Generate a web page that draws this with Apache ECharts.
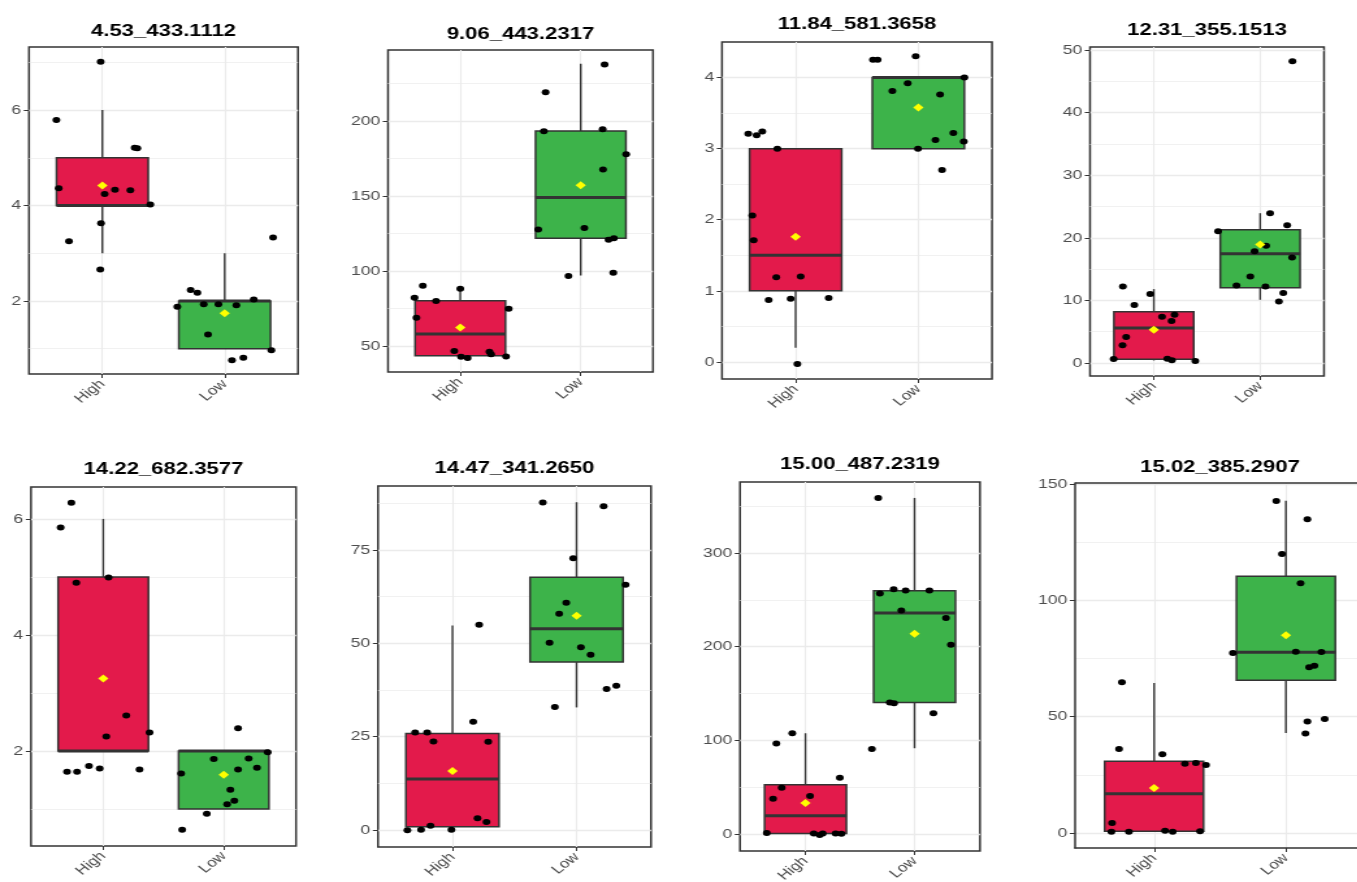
<!DOCTYPE html>
<html>
<head>
<meta charset="utf-8">
<script src="https://cdn.jsdelivr.net/npm/echarts@6/dist/echarts.min.js"></script>
<style>
  html, body { margin: 0; padding: 0; background: #fff; overflow: hidden; width: 1357px; height: 882px; }
  /* the figure is drawn narrow and widened horizontally; the right edge runs off the page */
  #chart { width: 1120px; height: 882px; transform: scaleX(1.3); transform-origin: 0 0; }
</style>
</head>
<body>
<div id="chart"></div>
<script>
const groups = ['High', 'Low'];
const titles = ['4.53_433.1112', '9.06_443.2317', '11.84_581.3658', '12.31_355.1513',
                '14.22_682.3577', '14.47_341.2650', '15.00_487.2319', '15.02_385.2907'];

// ---- 4.53_433.1112 ----
const p1High = [[0.986,7.01],[0.624,5.79],[1.264,5.21],[1.286,5.20],[0.643,4.36],[1.019,4.24],[1.103,4.33],[1.229,4.32],[1.392,4.02],[0.989,3.63],[0.727,3.25],[0.983,2.66]];
const p1Low = [[1.613,1.88],[1.722,2.23],[1.777,2.17],[1.829,1.93],[1.949,1.93],[2.096,1.91],[2.238,2.03],[1.864,1.30],[2.060,0.76],[2.153,0.81],[2.382,0.97],[2.396,3.33]];
const p1Stats = [[3,4,4,5,6],[1,1,2,2,3]];   // lower whisker, Q1, median, Q3, upper whisker
const p1Means = [4.42, 1.74];
const p1Range = [0.47, 7.32];
const p1Major = [2, 4, 6];
const p1Minor = [1, 3, 5, 7];

// ---- 9.06_443.2317 ----
const p2High = [[0.689,90.2],[0.620,82.2],[0.799,80.0],[1.000,88.2],[0.636,68.9],[1.402,74.9],[0.950,46.7],[1.006,42.9],[1.061,42.0],[1.242,46.2],[1.256,44.5],[1.380,43.1]];
const p2Low = [[1.708,219.1],[2.198,237.7],[1.694,193.1],[2.182,194.5],[2.377,177.8],[2.185,167.6],[1.647,127.7],[2.030,128.6],[2.231,120.8],[2.275,121.9],[1.898,96.6],[2.270,98.8]];
const p2Stats = [[43.6,43.6,58.0,80.2,88.2],[97.0,121.9,149.0,193.3,238.2]];
const p2Means = [62.4, 157.2];
const p2Range = [32.7, 247.3];
const p2Major = [50, 100, 150, 200];
const p2Minor = [75, 125, 175, 225];

// ---- 11.84_581.3658 ----
const p3High = [[0.614,3.21],[0.682,3.19],[0.728,3.24],[0.851,3.00],[0.647,2.06],[0.658,1.71],[0.842,1.19],[1.041,1.20],[0.780,0.87],[0.959,0.89],[1.269,0.90],[1.014,-0.03]];
const p3Low = [[1.630,4.25],[1.668,4.25],[1.978,4.30],[1.788,3.81],[1.913,3.92],[2.177,3.76],[2.375,4.00],[2.139,3.12],[2.285,3.22],[2.370,3.10],[1.997,3.00],[2.193,2.70]];
const p3Stats = [[0.2,1,1.5,3,3],[3,3,4,4,4]];
const p3Means = [1.76, 3.58];
const p3Range = [-0.24, 4.50];
const p3Major = [0, 1, 2, 3, 4];
const p3Minor = [0.5, 1.5, 2.5, 3.5];

// ---- 12.31_355.1513 ----
const p4High = [[0.709,12.23],[0.966,11.01],[0.817,9.26],[1.077,7.39],[1.195,7.71],[1.167,6.70],[0.740,4.15],[0.706,2.82],[0.622,0.64],[1.127,0.69],[1.170,0.43],[1.390,0.32]];
const p4Low = [[1.604,21.06],[2.093,23.94],[2.254,22.02],[2.056,18.72],[1.947,17.87],[2.300,16.86],[1.907,13.83],[1.777,12.39],[2.050,12.23],[2.217,11.17],[2.176,9.84],[2.303,48.24]];
const p4Stats = [[0.4,0.59,5.59,8.19,11.81],[10.1,12.02,17.45,21.28,23.94]];
const p4Means = [5.32, 18.94];
const p4Range = [-2.08, 50.5];
const p4Major = [0, 10, 20, 30, 40, 50];
const p4Minor = [5, 15, 25, 35, 45];

// ---- 14.22_682.3577 ----
const p5High = [[0.735,6.28],[0.646,5.85],[0.776,4.90],[1.044,4.99],[1.191,2.61],[1.025,2.25],[1.384,2.32],[0.699,1.64],[0.782,1.64],[0.881,1.74],[0.970,1.70],[1.301,1.68]];
const p5Low = [[2.119,2.39],[2.365,1.98],[1.917,1.86],[2.207,1.87],[2.276,1.71],[2.119,1.68],[1.646,1.61],[2.055,1.33],[2.088,1.14],[2.028,1.08],[1.859,0.92],[1.655,0.64]];
const p5Stats = [[2,2,2,5,6],[1,1,2,2,2]];
const p5Means = [3.25, 1.59];
const p5Range = [0.362, 6.55];
const p5Major = [2, 4, 6];
const p5Minor = [1, 3, 5];

// ---- 14.47_341.2650 ----
const p6High = [[0.699,26.13],[0.796,26.13],[0.847,23.72],[1.167,28.98],[1.215,54.94],[1.288,23.63],[0.637,-0.09],[0.747,0.09],[0.823,1.16],[0.992,0.09],[1.202,3.12],[1.274,2.14]];
const p6Low = [[1.728,87.67],[2.218,86.69],[1.973,72.77],[2.395,65.64],[1.917,60.82],[1.860,57.88],[1.782,50.12],[2.035,48.96],[2.113,46.91],[1.825,32.91],[2.242,37.72],[2.320,38.62]];
const p6Stats = [[0,0.89,13.64,25.86,54.76],[32.82,44.95,53.87,67.69,87.76]];
const p6Means = [15.79, 57.34];
const p6Range = [-4.55, 92.1];
const p6Major = [0, 25, 50, 75];
const p6Minor = [12.5, 37.5, 62.5, 87.5];

// ---- 15.00_487.2319 ----
const p7High = [[0.879,107.6],[0.733,96.6],[0.782,49.5],[0.703,37.8],[1.042,40.6],[1.315,60.2],[0.645,1.07],[1.076,0.71],[1.130,-1.07],[1.158,0.71],[1.276,0.71],[1.330,0.36]];
const p7Low = [[1.667,358.8],[1.682,256.9],[1.809,261.2],[1.918,260.1],[2.136,260.1],[1.879,238.7],[2.288,230.5],[2.333,202.0],[1.773,140.4],[1.812,139.7],[2.173,129.0],[1.609,90.9]];
const p7Stats = [[0,0.7,19.6,52.7,107.6],[91.6,140.4,235.9,259.7,358.8]];
const p7Means = [33.1, 213.8];
const p7Range = [-18.1, 375.8];
const p7Major = [0, 100, 200, 300];
const p7Minor = [50, 150, 250, 350];

// ---- 15.02_385.2907 ----
const p8High = [[0.756,64.76],[0.734,36.10],[1.063,33.81],[1.234,29.80],[1.317,30.09],[1.394,29.23],[0.681,4.30],[0.676,0.57],[0.809,0.57],[1.083,1.00],[1.141,0.57],[1.349,0.72]];
const p8Low = [[1.927,142.7],[2.163,134.8],[1.970,119.9],[2.111,107.3],[1.598,77.4],[2.075,77.9],[2.269,77.8],[2.176,71.2],[2.216,71.9],[2.163,47.9],[2.294,49.0],[2.148,42.7]];
const p8Stats = [[0.5,0.72,16.9,30.8,64.5],[43.0,65.6,77.7,110.3,142.8]];
const p8Means = [19.34, 85.0];
const p8Range = [-6.45, 150.4];
const p8Major = [0, 50, 100, 150];
const p8Minor = [25, 75, 125];

const panels = [
  { high: p1High, low: p1Low, stats: p1Stats, means: p1Means, range: p1Range, major: p1Major, minor: p1Minor },
  { high: p2High, low: p2Low, stats: p2Stats, means: p2Means, range: p2Range, major: p2Major, minor: p2Minor },
  { high: p3High, low: p3Low, stats: p3Stats, means: p3Means, range: p3Range, major: p3Major, minor: p3Minor },
  { high: p4High, low: p4Low, stats: p4Stats, means: p4Means, range: p4Range, major: p4Major, minor: p4Minor },
  { high: p5High, low: p5Low, stats: p5Stats, means: p5Means, range: p5Range, major: p5Major, minor: p5Minor },
  { high: p6High, low: p6Low, stats: p6Stats, means: p6Means, range: p6Range, major: p6Major, minor: p6Minor },
  { high: p7High, low: p7Low, stats: p7Stats, means: p7Means, range: p7Range, major: p7Major, minor: p7Minor },
  { high: p8High, low: p8Low, stats: p8Stats, means: p8Means, range: p8Range, major: p8Major, minor: p8Minor }
];

// panel frames on the page: [left, top, right, bottom] and title centre heights.
// Each frame spans 0.4..2.6 on the group scale; the last one runs past the page edge.
const STRETCH = 1.3;
const frames = [
  [29, 47, 298, 374], [388, 50, 653, 372], [722, 42, 992, 379], [1090, 47, 1324, 376],
  [31, 487, 296, 846], [378, 486, 651, 847], [740, 482, 980, 851], [1075, 483, 1365, 848]
];
const titleY = [30, 33, 23, 29, 468, 467, 463, 466];
const PAGE_W = 1357;
const OVERHANG = 40;   // extra width given to a frame that leaves the page

const FILL = ['#E31A4B', '#3DB34A'];
const INK = '#333333';
const GRIDC = '#EBEBEB';
const FONT = '"Liberation Sans", Arial, sans-serif';

function renderBox(params, api) {
  const x = api.value(0);
  const pLo = api.coord([x, api.value(1)]);
  const pQ1 = api.coord([x, api.value(2)]);
  const pMed = api.coord([x, api.value(3)]);
  const pQ3 = api.coord([x, api.value(4)]);
  const pHi = api.coord([x, api.value(5)]);
  const half = api.size([0.75, 0])[0] / 2;
  const cx = pMed[0];
  const wStyle = { stroke: INK, lineWidth: 1.4 };
  return {
    type: 'group',
    children: [
      { type: 'line', shape: { x1: cx, y1: pHi[1], x2: cx, y2: pQ3[1] }, style: wStyle },
      { type: 'line', shape: { x1: cx, y1: pQ1[1], x2: cx, y2: pLo[1] }, style: wStyle },
      { type: 'rect', shape: { x: cx - half, y: pQ3[1], width: half * 2, height: pQ1[1] - pQ3[1] },
        style: { fill: FILL[params.dataIndex], stroke: INK, lineWidth: 1.5 } },
      { type: 'line', shape: { x1: cx - half, y1: pMed[1], x2: cx + half, y2: pMed[1] },
        style: { stroke: INK, lineWidth: 3 } }
    ]
  };
}

const grid = [], xAxis = [], yAxis = [], series = [], title = [];

panels.forEach((p, i) => {
  const [l, t, r, b] = frames[i];
  // a panel running past the page edge gets its frame from axis lines (no right side)
  const open = r > PAGE_W;
  const unit = (r - l) / 2.2;                       // page px per group step
  const rr = open ? r + OVERHANG : r;
  const xMax = 0.4 + (rr - l) / unit;
  const left = l / STRETCH, width = (rr - l) / STRETCH;
  const frameLine = { show: open, onZero: false, lineStyle: { color: INK, width: 1.5 } };
  grid.push({
    left: left, top: t, width: width, height: b - t,
    show: true, backgroundColor: '#fff', borderColor: INK, borderWidth: open ? 0 : 1.5,
    outerBoundsMode: 'none', containLabel: false
  });
  title.push({
    text: titles[i], left: (l + (r - l) / 2) / STRETCH, top: titleY[i] - 7, textAlign: 'center', padding: 0,
    textStyle: { fontFamily: FONT, fontWeight: 'bold', fontSize: 17, color: '#000' }
  });
  xAxis.push({
    type: 'value', gridIndex: i, min: 0.4, max: xMax, position: 'bottom',
    axisLine: frameLine,
    splitLine: { show: false },
    axisTick: { show: true, customValues: [1, 2], length: 4, lineStyle: { color: INK, width: 1 } },
    axisLabel: {
      show: true, customValues: [1, 2], rotate: 45, margin: 8,
      formatter: v => groups[Math.round(v) - 1],
      color: '#4D4D4D', fontFamily: FONT, fontSize: 13
    }
  });
  yAxis.push({
    type: 'value', gridIndex: i, min: p.range[0], max: p.range[1], position: 'left',
    axisLine: frameLine,
    splitLine: { show: false },
    axisTick: { show: true, customValues: p.major, length: 4, lineStyle: { color: INK, width: 1 } },
    axisLabel: {
      show: true, customValues: p.major, margin: 6,
      color: '#4D4D4D', fontFamily: FONT, fontSize: 13.5
    }
  });

  // background grid lines
  const lines = [];
  p.minor.forEach(v => lines.push({ yAxis: v, lineStyle: { color: GRIDC, width: 0.7, type: 'solid' } }));
  p.major.forEach(v => lines.push({ yAxis: v, lineStyle: { color: GRIDC, width: 1.3, type: 'solid' } }));
  [1, 2].forEach(v => lines.push({ xAxis: v, lineStyle: { color: GRIDC, width: 1.1, type: 'solid' } }));
  series.push({
    type: 'line', xAxisIndex: i, yAxisIndex: i, data: [], z: 0, silent: true,
    markLine: { silent: true, symbol: 'none', z: 0, animation: false, label: { show: false }, data: lines }
  });
  if (open) {
    // top edge of the open frame
    series.push({
      type: 'line', xAxisIndex: i, yAxisIndex: i, data: [], z: 6, silent: true,
      markLine: { silent: true, symbol: 'none', z: 6, animation: false, label: { show: false },
        data: [{ yAxis: p.range[1], lineStyle: { color: INK, width: 1.5, type: 'solid' } }] }
    });
  }

  series.push({
    type: 'custom', xAxisIndex: i, yAxisIndex: i, z: 2, silent: true,
    renderItem: renderBox,
    encode: { x: 0, y: [1, 2, 3, 4, 5] },
    data: p.stats.map((s, k) => [k + 1].concat(s))
  });

  series.push({
    type: 'scatter', xAxisIndex: i, yAxisIndex: i, z: 3, silent: true,
    symbol: 'circle', symbolSize: 6, itemStyle: { color: '#000', opacity: 1 },
    data: p.high.concat(p.low)
  });

  series.push({
    type: 'scatter', xAxisIndex: i, yAxisIndex: i, z: 4, silent: true,
    symbol: 'diamond', symbolSize: 8, itemStyle: { color: '#FFFF00', opacity: 1 },
    data: p.means.map((m, k) => [k + 1, m])
  });
});

const chart = echarts.init(document.getElementById('chart'), null, { renderer: 'canvas' });
chart.setOption({
  animation: false,
  backgroundColor: '#fff',
  title: title,
  grid: grid,
  xAxis: xAxis,
  yAxis: yAxis,
  series: series
});
</script>
</body>
</html>
